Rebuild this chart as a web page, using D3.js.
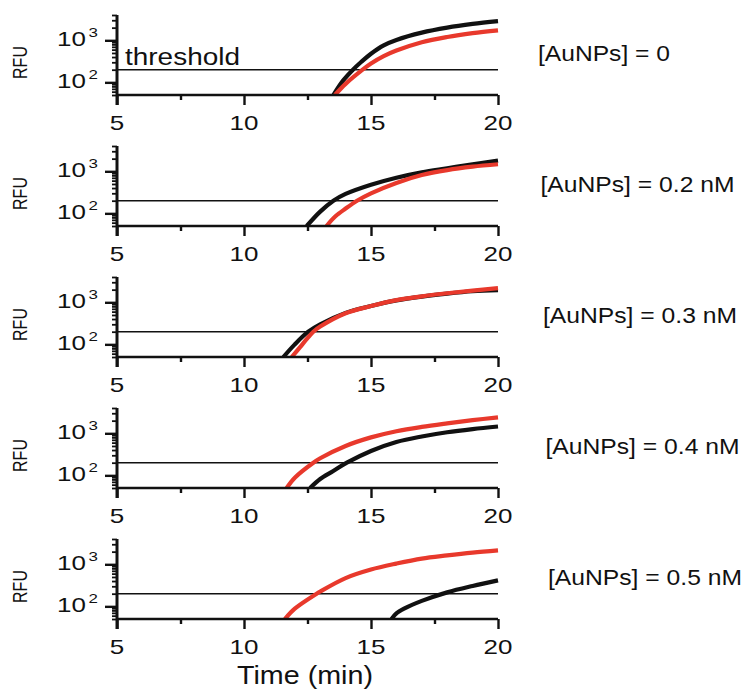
<!DOCTYPE html>
<html><head><meta charset="utf-8">
<script src="https://cdn.jsdelivr.net/npm/d3@7"></script>
<style>
body{margin:0;background:#fff}
text{font-family:"Liberation Sans",Arial,Helvetica,sans-serif;fill:#111}
</style>
</head><body>
<svg id="chart" width="745" height="691"></svg>
<script>
// ---------------- data ----------------
const concentrations = ["0", "0.2 nM", "0.3 nM", "0.4 nM", "0.5 nM"];
const xMajorTicks = [5, 10, 15, 20];
const xMinorTicks = [7.5, 12.5, 17.5];
const yMajorTicks = [100, 1000];
const yMajorLabels = [["10", "2"], ["10", "3"]];
const yMinorTicks = [50, 60, 70, 80, 90, 200, 300, 400, 500, 600, 700, 800, 900, 2000, 3000, 4000];
const thresholdValue = 200;
const xDomain = [5, 20];
const yDomain = [50, 4000];

// [time (min), RFU]
const black0 = [[13.52,50],[13.9,110],[14.29,200],[14.6,300],[15,480],[15.5,760],[16,1020],[17,1520],[18,2000],[19,2450],[20,2870]];
const red0   = [[13.58,50],[14.0,92],[14.67,200],[15,280],[15.5,420],[16,570],[17,900],[18,1200],[19,1480],[20,1730]];
const black1 = [[12.47,50],[13,110],[13.52,200],[14,290],[15,480],[16,705],[17,946],[18,1180],[19,1470],[20,1790]];
const red1   = [[13.25,50],[13.6,85],[14,130],[14.45,200],[15,300],[16,530],[17,815],[18,1070],[19,1290],[20,1470]];
const black2 = [[11.55,50],[12,100],[12.53,200],[13,300],[14,560],[15,815],[16,1110],[17,1370],[18,1610],[19,1830],[20,1950]];
const red2   = [[11.88,50],[12.2,85],[12.5,140],[12.73,200],[13,265],[14,550],[15,815],[16,1130],[17,1390],[18,1640],[19,1900],[20,2180]];
const black3 = [[12.6,50],[13,82],[13.5,125],[14.05,200],[15,380],[16,620],[17,840],[18,1060],[19,1260],[20,1450]];
const red3   = [[11.68,50],[12,88],[12.73,200],[13,255],[14,500],[15,800],[16,1120],[17,1420],[18,1720],[19,2050],[20,2390]];
const black4 = [[15.81,50],[16,68],[16.3,88],[17,135],[18,215],[19,305],[20,415]];
const red4   = [[11.61,50],[12,88],[12.86,200],[13,225],[14,470],[15,750],[16,1040],[17,1370],[18,1630],[19,1900],[20,2150]];

const blackSeries = [black0, black1, black2, black3, black4];
const redSeries = [red0, red1, red2, red3, red4];

// ---------------- layout ----------------
const svg = d3.select("#chart");
const BLACK = "#111111", RED = "#e8392c";
const left = 117, right = 498;
const firstBottom = 95, panelStep = 131, panelHeight = 80;
const tickStretch = 1.3;

const x = d3.scaleLinear().domain(xDomain).range([left, right]);

concentrations.forEach((conc, i) => {
  const bottom = firstBottom + panelStep * i;
  const y = d3.scaleLog().domain(yDomain).range([bottom, bottom - panelHeight]);
  const g = svg.append("g");

  const clipId = "clip" + i;
  svg.append("clipPath").attr("id", clipId).append("rect")
    .attr("x", left).attr("y", bottom - panelHeight - 5)
    .attr("width", right - left + 3).attr("height", panelHeight + 5);

  // threshold
  g.append("line").attr("x1", x(xDomain[0])).attr("x2", x(xDomain[1]))
    .attr("y1", y(thresholdValue)).attr("y2", y(thresholdValue))
    .attr("stroke", BLACK).attr("stroke-width", 1.6);

  // curves
  const line = d3.line().x(d => x(d[0])).y(d => y(d[1])).curve(d3.curveCatmullRom.alpha(0.5));
  const cg = g.append("g").attr("clip-path", `url(#${clipId})`);
  cg.append("path").datum(blackSeries[i]).attr("d", line)
    .attr("fill", "none").attr("stroke", BLACK).attr("stroke-width", 4.2);
  cg.append("path").datum(redSeries[i]).attr("d", line)
    .attr("fill", "none").attr("stroke", RED).attr("stroke-width", 4.2);

  // x axis
  const xAxis = d3.axisBottom(x).tickValues(xMajorTicks).tickSize(10).tickFormat("");
  const gx = g.append("g").attr("transform", `translate(0,${bottom})`).call(xAxis);
  gx.select(".domain").attr("d", `M${left},0H${right}`).attr("stroke", BLACK).attr("stroke-width", 2.6);
  gx.selectAll(".tick line").attr("stroke", BLACK).attr("stroke-width", 2.4);
  const xMinor = d3.axisBottom(x).tickValues(xMinorTicks).tickSize(5).tickFormat("");
  const gxm = g.append("g").attr("transform", `translate(0,${bottom})`).call(xMinor);
  gxm.select(".domain").remove();
  gxm.selectAll(".tick line").attr("stroke", BLACK).attr("stroke-width", 2.4);
  // x tick labels
  g.selectAll(".xl").data(xMajorTicks).join("text")
    .attr("transform", d => `translate(${x(d)},${bottom + 34.5}) scale(${tickStretch},1)`)
    .attr("text-anchor", "middle").attr("font-size", 20).text(d => d);

  // y axis
  const yAxis = d3.axisLeft(y).tickValues(yMajorTicks).tickSize(12).tickFormat("");
  const gy = g.append("g").attr("transform", `translate(${left},0)`).call(yAxis);
  gy.select(".domain").attr("d", `M0,${bottom - panelHeight}V${bottom + 10}`).attr("stroke", BLACK).attr("stroke-width", 3);
  gy.selectAll(".tick line").attr("stroke", BLACK).attr("stroke-width", 2.4);
  const yMinor = d3.axisLeft(y).tickValues(yMinorTicks).tickSize(5).tickFormat("");
  const gym = g.append("g").attr("transform", `translate(${left},0)`).call(yMinor);
  gym.select(".domain").remove();
  gym.selectAll(".tick line").attr("stroke", BLACK).attr("stroke-width", 1.8);
  // y tick labels
  yMajorTicks.forEach((v, k) => {
    const t = g.append("text")
      .attr("transform", `translate(${left - 19},${y(v) + 6}) scale(${tickStretch},1)`)
      .attr("text-anchor", "end").attr("font-size", 20);
    t.append("tspan").text(yMajorLabels[k][0]);
    t.append("tspan").attr("font-size", 13).attr("dy", -9).attr("dx", 2).text(yMajorLabels[k][1]);
  });

  // RFU label
  g.append("text")
    .attr("transform", `translate(26.5,${bottom - 32.5}) scale(1.3,1) rotate(-90)`)
    .attr("text-anchor", "middle").attr("font-size", 16).text("RFU");

  // concentration label
  const lab = `[AuNPs] = ${conc}`;
  g.append("text")
    .attr("x", 538 + 2.5 * i).attr("y", bottom - 34)
    .attr("font-size", 22)
    .attr("textLength", i === 0 ? 132 : 194).attr("lengthAdjust", "spacingAndGlyphs")
    .text(lab);

  if (i === 0) {
    g.append("text").attr("x", 125).attr("y", 65).attr("font-size", 23)
      .attr("textLength", 115).attr("lengthAdjust", "spacingAndGlyphs").text("threshold");
  }
});

svg.append("text").attr("x", (left + right) / 2 - 2.5).attr("y", 684)
  .attr("text-anchor", "middle").attr("font-size", 25)
  .attr("textLength", 136).attr("lengthAdjust", "spacingAndGlyphs").text("Time (min)");
</script>
</body></html>
